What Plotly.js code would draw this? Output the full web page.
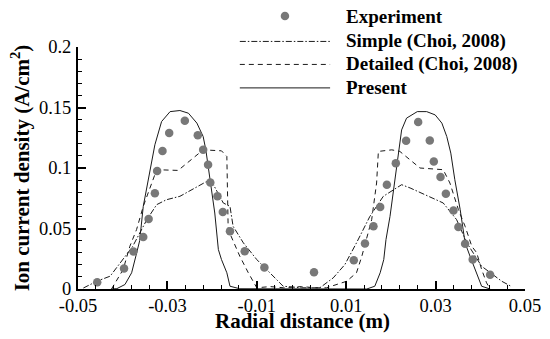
<!DOCTYPE html>
<html>
<head>
<meta charset="utf-8">
<script src="https://cdn.plot.ly/plotly-3.0.1.min.js"></script>
<style>html,body{margin:0;padding:0;background:#fff;}#chart{width:550px;height:339px;}</style>
</head>
<body>
<div id="chart"></div>
<script>
// Experiment
var expX = [-0.0457,-0.0397,-0.0376,-0.0354,-0.0342,-0.0328,-0.0323,-0.0311,-0.0296,-0.0261,-0.0232,-0.0220,-0.0209,-0.0204,-0.0188,-0.0176,-0.0160,-0.0127,-0.0083,
            0.0028,
            0.0117,0.0142,0.0161,0.0176,0.0191,0.0211,0.0234,0.0261,0.0287,0.0296,0.0311,0.0323,0.0340,0.0351,0.0366,0.0383,0.0422,0.0502];
var expY = [0.0056,0.0169,0.0309,0.0429,0.0578,0.0791,0.0975,0.1140,0.1290,0.1390,0.1270,0.1150,0.1027,0.0880,0.0766,0.0637,0.0477,0.0312,0.0177,
            0.0139,
            0.0238,0.0376,0.0519,0.0678,0.0862,0.1040,0.1225,0.1380,0.1228,0.1054,0.0925,0.0788,0.0649,0.0513,0.0374,0.0243,0.0117,0.0035];
// Simple (Choi, 2008)
var simpleX = [-0.0488,-0.0458,-0.0428,-0.0399,-0.0378,-0.0346,-0.0324,-0.0302,-0.0272,-0.0212,-0.0197,-0.0175,-0.0160,-0.0153,-0.0130,-0.0100,-0.0070,-0.0041,0.0000,
               0.0041,0.0071,0.0097,0.0123,0.0153,0.0183,0.0224,0.0243,0.0317,0.0347,0.0370,0.0403,0.0448,0.0470];
var simpleY = [0.0008,0.0064,0.0106,0.0243,0.0350,0.0573,0.0697,0.0738,0.0766,0.0889,0.0862,0.0711,0.0683,0.0518,0.0381,0.0243,0.0134,0.0023,0.0010,
               0.0010,0.0092,0.0202,0.0381,0.0600,0.0766,0.0862,0.0835,0.0711,0.0573,0.0381,0.0188,0.0064,0.0020];
// Detailed (Choi, 2008)
var detailedX = [-0.0425,-0.0399,-0.0384,-0.0369,-0.0354,-0.0324,-0.0276,-0.0220,-0.0179,-0.0167,-0.0164,-0.0138,-0.0119,-0.0100,-0.0070,-0.0040,0.0000,0.0030,
                 0.0056,0.0101,0.0123,0.0135,0.0157,0.0168,0.0172,0.0202,0.0220,0.0265,0.0317,0.0332,0.0351,0.0366,0.0381,0.0392,0.0403,0.0414,0.0422];
var detailedY = [0.0000,0.0161,0.0353,0.0491,0.0683,0.0986,0.0980,0.1150,0.1142,0.1095,0.0491,0.0271,0.0134,0.0010,0.0020,0.0010,0.0020,0.0010,
                 0.0010,0.0064,0.0134,0.0271,0.0573,0.0876,0.1137,0.1150,0.1137,0.1000,0.0986,0.0876,0.0656,0.0518,0.0353,0.0299,0.0161,0.0051,0.0000];
// Present
var presentX = [-0.0425,-0.0413,-0.0395,-0.0380,-0.0370,-0.0362,-0.0354,-0.0340,-0.0328,-0.0313,-0.0294,-0.0272,-0.0253,-0.0234,-0.0220,-0.0214,-0.0205,-0.0194,-0.0186,-0.0179,-0.0167,-0.0160,-0.0138,
                0.0146,0.0164,0.0176,0.0184,0.0189,0.0198,0.0209,0.0217,0.0224,0.0235,0.0259,0.0280,0.0299,0.0314,0.0325,0.0334,0.0343,0.0355,0.0366,0.0377,0.0388,0.0403,0.0422];
var presentY = [0.0000,0.0003,0.0037,0.0134,0.0280,0.0400,0.0683,0.0958,0.1192,0.1384,0.1466,0.1475,0.1453,0.1371,0.1260,0.1150,0.0930,0.0628,0.0326,0.0243,0.0134,0.0023,0.0002,
                0.0000,0.0023,0.0134,0.0243,0.0408,0.0600,0.0903,0.1150,0.1315,0.1412,0.1466,0.1466,0.1439,0.1371,0.1260,0.1123,0.0903,0.0656,0.0381,0.0271,0.0161,0.0023,0.0000];

var xTickVals = [-0.05,-0.03,-0.01,0.01,0.03,0.05];
var xTickText = ['-0.05','-0.03','-0.01','0.01','0.03','0.05'];
var yTickVals = [0,0.05,0.1,0.15,0.2];
var yTickText = ['0','0.05','0.1','0.15','0.2'];
var legendNames = ['Experiment','Simple (Choi, 2008)','Detailed (Choi, 2008)','Present'];
var xTitle = 'Radial distance (m)';
var yTitle = 'Ion current density (A/cm<sup>2</sup>)';

var SERIF = 'Liberation Serif';
var lineCol = '#1a1a1a';
var dotCol = '#787878';

var traces = [
  {x: simpleX, y: simpleY, mode: 'lines', name: legendNames[1], line: {color: lineCol, width: 1, dash: '6px,2px,1.5px,2px'}},
  {x: detailedX, y: detailedY, mode: 'lines', name: legendNames[2], line: {color: lineCol, width: 1, dash: '5px,4px'}},
  {x: presentX, y: presentY, mode: 'lines', name: legendNames[3], line: {color: lineCol, width: 1}},
  {x: expX, y: expY, mode: 'markers', name: legendNames[0], cliponaxis: false, marker: {color: dotCol, size: 8.5, line: {width: 0}}}
];

// manual legend (paper coordinates)
var legRowY = [1.128, 1.023, 0.928, 0.831];
var legLineX0 = 0.362, legLineX1 = 0.564, legMarkX = 0.463, legTextX = 0.596;
var dashes = [null, '6px,2px,1.5px,2px', '5px,4px', 'solid'];
var shapes = [];
var annotations = [];
for (var i = 0; i < 4; i++) {
  if (i === 0) {
    shapes.push({type: 'circle', xref: 'paper', yref: 'paper', xsizemode: 'pixel', ysizemode: 'pixel',
      xanchor: legMarkX, yanchor: legRowY[i], x0: -4.25, x1: 4.25, y0: -4.25, y1: 4.25,
      fillcolor: dotCol, line: {width: 0}});
  } else {
    shapes.push({type: 'line', xref: 'paper', yref: 'paper', x0: legLineX0, x1: legLineX1, y0: legRowY[i], y1: legRowY[i],
      line: {color: lineCol, width: 1, dash: dashes[i]}});
  }
  annotations.push({xref: 'paper', yref: 'paper', x: legTextX, y: legRowY[i], xanchor: 'left', yanchor: 'middle',
    text: '<b>' + legendNames[i] + '</b>', showarrow: false, font: {family: SERIF, size: 19, color: '#000'}});
}
// x-axis title placed just under the tick labels, as in the reference
annotations.push({xref: 'paper', yref: 'paper', x: 0.502, y: -0.132, xanchor: 'center', yanchor: 'middle',
  text: '<b>' + xTitle + '</b>', showarrow: false, font: {family: SERIF, size: 21, color: '#000'}});

var layout = {
  width: 550, height: 339,
  margin: {l: 78, r: 25, t: 47, b: 50},
  paper_bgcolor: '#fff', plot_bgcolor: '#fff',
  showlegend: false,
  font: {family: SERIF, color: '#000', size: 18},
  xaxis: {
    range: [-0.05, 0.05], tickmode: 'array', tickvals: xTickVals, ticktext: xTickText,
    ticks: 'inside', ticklen: 8, tickwidth: 2, tickcolor: '#000',
    minor: {dtick: 0.004, tick0: -0.05, ticks: 'inside', ticklen: 4, tickwidth: 1, tickcolor: '#000', showgrid: false},
    showline: true, linecolor: '#000', linewidth: 2, showgrid: false, zeroline: false,
    tickfont: {family: SERIF, size: 18.5, color: '#000'},
    ticklabelstandoff: -1
  },
  yaxis: {
    range: [0, 0.2], tickmode: 'array', tickvals: yTickVals, ticktext: yTickText,
    ticks: 'inside', ticklen: 8, tickwidth: 2, tickcolor: '#000',
    minor: {dtick: 0.01, tick0: 0, ticks: 'inside', ticklen: 4, tickwidth: 1, tickcolor: '#000', showgrid: false},
    showline: true, linecolor: '#000', linewidth: 2, showgrid: false, zeroline: false,
    tickfont: {family: SERIF, size: 18.5, color: '#000'},
    ticklabelstandoff: 1,
    title: {text: '<b>' + yTitle + '</b>', font: {family: SERIF, size: 21, color: '#000'}, standoff: 4}
  },
  shapes: shapes,
  annotations: annotations
};

Plotly.newPlot('chart', traces, layout, {staticPlot: true, displayModeBar: false});
</script>
</body>
</html>
